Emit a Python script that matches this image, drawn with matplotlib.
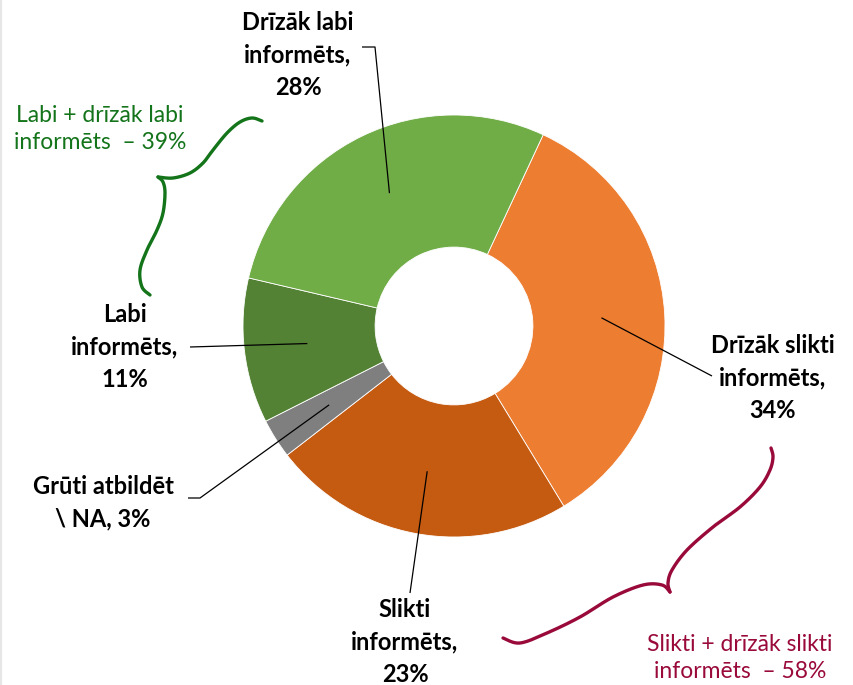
import numpy as np
import matplotlib
matplotlib.use("Agg")
import matplotlib.pyplot as plt

# ---- data ----
categories = ["Drīzāk slikti informēts", "Slikti informēts", "Grūti atbildēt \\ NA",
              "Labi informēts", "Drīzāk labi informēts"]
values = [34, 23, 3, 11, 28]
colors = ["#ED7D31", "#C55A11", "#7F7F7F", "#548235", "#70AD47"]
labels = ["Drīzāk slikti\ninformēts,\n34%", "Slikti\ninformēts,\n23%", "Grūti atbildēt\n\\ NA, 3%",
          "Labi\ninformēts,\n11%", "Drīzāk labi\ninformēts,\n28%"]
group_labels = ["Labi + drīzāk labi\ninformēts  – 39%", "Slikti + drīzāk slikti\ninformēts  – 58%"]

W, H = 854, 685
fig = plt.figure(figsize=(W / 100, H / 100), dpi=100)
fig.patch.set_facecolor("white")

# pie geometry in pixels
cx, cy, R = 454, 326, 211
ax = fig.add_axes([(cx - R) / W, 1 - (cy + R) / H, 2 * R / W, 2 * R / H])
start = 65
wedges, _ = ax.pie(values, colors=colors, startangle=start, counterclock=False,
                   radius=1, wedgeprops=dict(width=0.626, edgecolor="white", linewidth=0.6))
ax.set_xlim(-1, 1)
ax.set_ylim(-1, 1)
ax.axis("off")

# overlay axes in pixel coords
ov = fig.add_axes([0, 0, 1, 1], zorder=5)
ov.set_xlim(0, W)
ov.set_ylim(H, 0)
ov.axis("off")
ov.patch.set_alpha(0)

font = "Lato"

# mid angles (clockwise from top, degrees)
total = sum(values)
cum = 0
mids = []
for v in values:
    a0 = 90 - start + cum / total * 360
    a1 = 90 - start + (cum + v) / total * 360
    mids.append((a0 + a1) / 2)
    cum += v

def inner_pt(i, rf=0.7):
    t = np.deg2rad(mids[i])
    return cx + rf * R * np.sin(t), cy - rf * R * np.cos(t)

# leader line outer paths (pixel)
leader_outer = [
    [(712, 376)],
    [(410, 593)],
    [(200, 498), (188, 498)],
    [(190, 347)],
    [(375, 47), (362, 47)],
]
label_pos = [(773, 378), (405, 642), (103, 503), (125, 347), (298, 55)]
for i in range(len(values)):
    p = [inner_pt(i)] + leader_outer[i]
    xs, ys = zip(*p)
    ov.plot(xs, ys, color="black", lw=0.9, solid_capstyle="butt")
    ov.text(label_pos[i][0], label_pos[i][1], labels[i], ha="center", va="center",
            fontsize=17, fontweight="bold", family=font, linespacing=1.5, color="black")

# braces
def catmull(pts, n=20):
    pts = np.asarray(pts, float)
    P = np.vstack([pts[0], pts, pts[-1]])
    out = []
    for k in range(1, len(P) - 2):
        p0, p1, p2, p3 = P[k - 1], P[k], P[k + 1], P[k + 2]
        for t in np.linspace(0, 1, n, endpoint=False):
            out.append(0.5 * ((2 * p1) + (-p0 + p2) * t + (2 * p0 - 5 * p1 + 4 * p2 - p3) * t ** 2
                              + (-p0 + 3 * p1 - 3 * p2 + p3) * t ** 3))
    out.append(pts[-1])
    return np.array(out)

green = "#13741A"
crimson = "#990A3A"
g_top = [(262, 121), (252, 118), (240, 122), (227, 133), (213, 150), (203, 163), (190, 173), (173, 178), (158, 177)]
g_bot = [(158, 177), (163, 182), (165, 193), (163, 213), (157, 230), (147, 250), (140, 270), (142, 287), (150, 295)]
r_top = [(771, 448), (773, 457), (770, 470), (760, 487), (740, 507), (713, 527), (687, 550), (672, 570), (668, 583), (670, 592)]
r_bot = [(670, 592), (662, 585), (643, 585), (613, 597), (580, 617), (547, 633), (520, 643), (503, 638)]
for pts, c in [(g_top, green), (g_bot, green), (r_top, crimson), (r_bot, crimson)]:
    a = catmull(pts)
    ov.plot(a[:, 0], a[:, 1], color=c, lw=2.4, solid_capstyle="round")

ov.text(100, 129, group_labels[0], ha="center", va="center", fontsize=16.5, family=font,
        color=green, linespacing=1.4)
ov.text(740, 658, group_labels[1], ha="center", va="center", fontsize=16.5, family=font,
        color=crimson, linespacing=1.4)

# faint left border
ov.plot([1, 1], [0, H], color="#E6E6E6", lw=1.5)

fig.savefig("out.png", dpi=100, facecolor="white")
